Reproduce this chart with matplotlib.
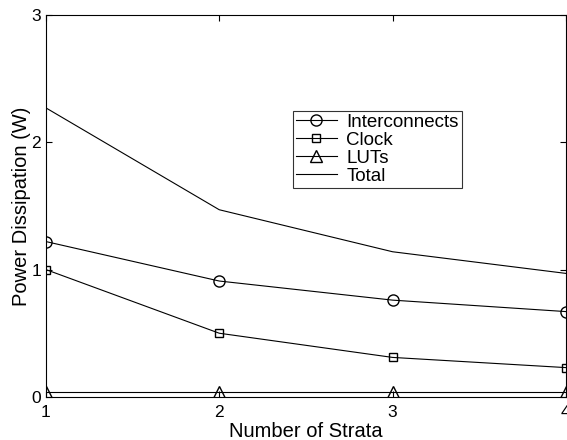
import numpy as np
import matplotlib
matplotlib.use('Agg')
import matplotlib.pyplot as plt

plt.rcParams['font.family'] = ['Liberation Sans', 'DejaVu Sans']

# data
strata = [1, 2, 3, 4]
interconnects = [1.22, 0.91, 0.76, 0.67]
clock = [1.00, 0.50, 0.31, 0.23]
luts = [0.04, 0.04, 0.04, 0.04]
total = [2.27, 1.47, 1.14, 0.97]

fig = plt.figure(figsize=(5.67, 4.4), dpi=100)
ax = fig.add_axes([0.081, 0.098, 0.917, 0.868])

ax.plot(strata, interconnects, 'k-', marker='o', mfc='none', ms=8, lw=0.8, label='Interconnects')
ax.plot(strata, clock, 'k-', marker='s', mfc='none', ms=6, lw=0.8, label='Clock')
ax.plot(strata, luts, 'k-', marker='^', mfc='none', ms=8, lw=0.8, label='LUTs')
ax.plot(strata, total, 'k-', lw=0.8, label='Total')

ax.set_xlim(1, 4)
ax.set_ylim(0, 3)
ax.set_xticks([1, 2, 3, 4])
ax.set_yticks([0, 1, 2, 3])
ax.tick_params(axis='x', pad=6)
ax.tick_params(direction='in', top=True, right=True, labelsize=12.5, length=4)
for s in ax.spines.values():
    s.set_linewidth(0.8)

ax.set_xlabel('Number of Strata', fontsize=14.5, labelpad=1)
ax.set_ylabel('Power Dissipation (W)', fontsize=14.5, labelpad=0)

leg = ax.legend(loc='upper left', bbox_to_anchor=(0.475, 0.749), fontsize=13.5,
                frameon=True, fancybox=False, edgecolor='k', borderpad=0.15,
                labelspacing=0.05, handlelength=2.2, handletextpad=0.5, borderaxespad=0)
leg.get_frame().set_linewidth(0.8)

fig.savefig('out.png', dpi=100)
